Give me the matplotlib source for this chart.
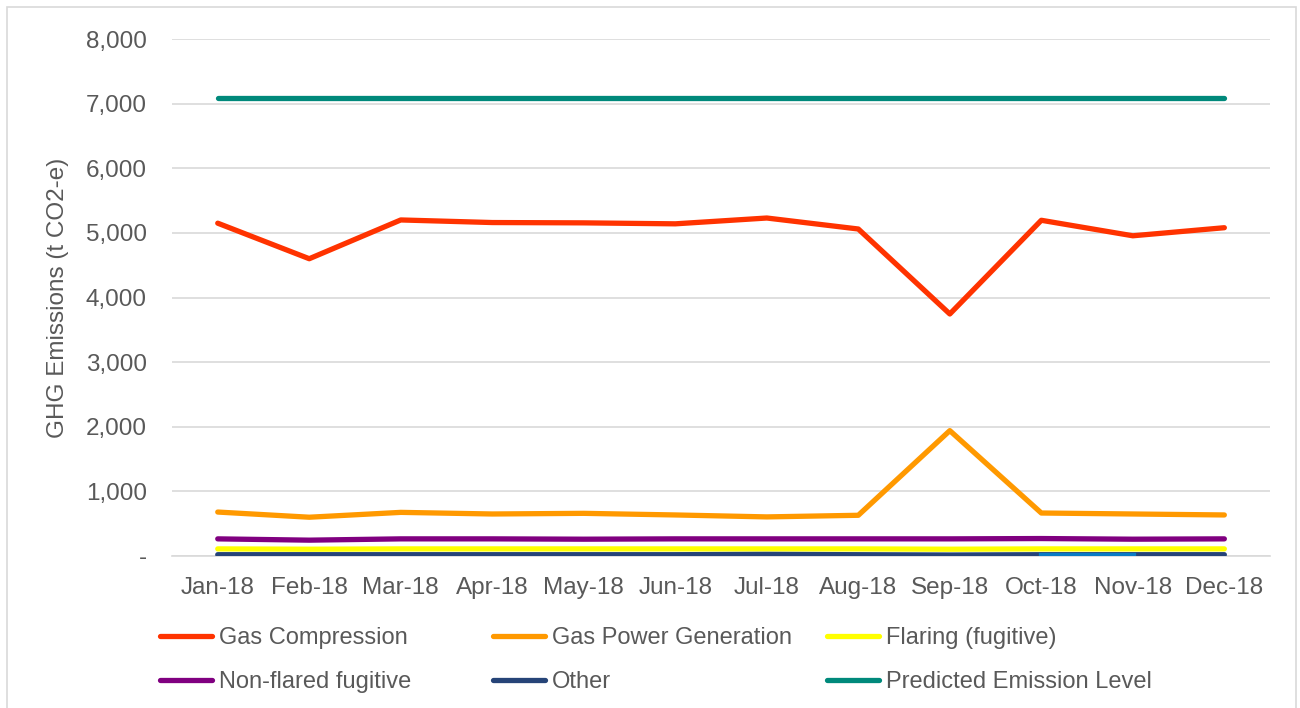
import numpy as np
import matplotlib.pyplot as plt
from matplotlib.patches import Rectangle

plt.rcParams['font.family'] = ['Liberation Sans', 'DejaVu Sans']

# data
months = ['Jan-18', 'Feb-18', 'Mar-18', 'Apr-18', 'May-18', 'Jun-18',
          'Jul-18', 'Aug-18', 'Sep-18', 'Oct-18', 'Nov-18', 'Dec-18']
gas_compression = [5150, 4600, 5200, 5160, 5155, 5140, 5230, 5060, 3745, 5195, 4955, 5080]
gas_power = [680, 600, 675, 650, 660, 635, 605, 630, 1940, 665, 650, 635]
flaring = [110, 105, 110, 110, 110, 110, 110, 110, 105, 110, 110, 110]
non_flared = [265, 245, 265, 265, 260, 265, 265, 265, 265, 270, 260, 265]
other = [20, 20, 20, 20, 20, 20, 25, 20, 15, 20, 20, 20]
predicted = [7080] * 12
yticks = [0, 1000, 2000, 3000, 4000, 5000, 6000, 7000, 8000]
ytick_labels = ['-', '1,000', '2,000', '3,000', '4,000', '5,000', '6,000', '7,000', '8,000']

grey = '#595959'
x = np.arange(len(months))

fig = plt.figure(figsize=(13, 7.08), dpi=100)
fig.patches.append(Rectangle((0.005, -0.05), 0.992, 1.04, transform=fig.transFigure,
                             fill=False, edgecolor='#D9D9D9', linewidth=1.2))
ax = fig.add_axes([0.1323, 0.2147, 0.8447, 0.7302])

lw = 3.8
kw = dict(linewidth=lw, solid_capstyle='round', solid_joinstyle='round')
l1, = ax.plot(x, gas_compression, color='#FF3300', label='Gas Compression', zorder=5, **kw)
l2, = ax.plot(x, gas_power, color='#FF9900', label='Gas Power Generation', zorder=5, **kw)
l3, = ax.plot(x, flaring, color='#FFFF00', label='Flaring (fugitive)', zorder=4, **kw)
l4, = ax.plot(x, non_flared, color='#800080', label='Non-flared fugitive', zorder=4, **kw)
l5, = ax.plot(x, other, color='#264478', label='Other', zorder=5, **kw)
ax.plot(x[9:11], other[9:11], color='#0A7CC4', linewidth=lw, zorder=5.5)
l6, = ax.plot(x, predicted, color='#00897B', label='Predicted Emission Level', zorder=5, **kw)

ax.set_xlim(-0.5, 11.5)
ax.set_ylim(0, 8000)
ax.set_xticks(x)
ax.set_xticklabels(months)
ax.set_yticks(yticks)
ax.set_yticklabels(ytick_labels)
ax.tick_params(axis='x', length=0, labelsize=17.5, colors=grey, pad=15)
ax.tick_params(axis='y', length=0, labelsize=17.5, colors=grey, pad=18)
ax.grid(axis='y', color='#D9D9D9', linewidth=1.2)
ax.set_axisbelow(True)
for s in ['top', 'right', 'left']:
    ax.spines[s].set_visible(False)
ax.spines['bottom'].set_color('#D9D9D9')
ax.spines['bottom'].set_linewidth(1.2)
ax.set_ylabel('GHG Emissions (t CO2-e)', fontsize=17.5, color=grey, labelpad=12)

# legend, three columns placed separately
cols = [[l1, l4], [l2, l5], [l3, l6]]
xpos = [0.116, 0.372, 0.629]
for i, handles in enumerate(cols):
    leg = fig.legend(handles=handles, loc='upper left', bbox_to_anchor=(xpos[i], 0.128),
                     frameon=False, fontsize=17, handlelength=2.2, handletextpad=0.3,
                     labelspacing=0.95, borderaxespad=0, labelcolor=grey)
    for h in leg.get_lines():
        h.set_linewidth(lw)
        h.set_solid_capstyle('round')

fig.savefig('out.png', dpi=100)
